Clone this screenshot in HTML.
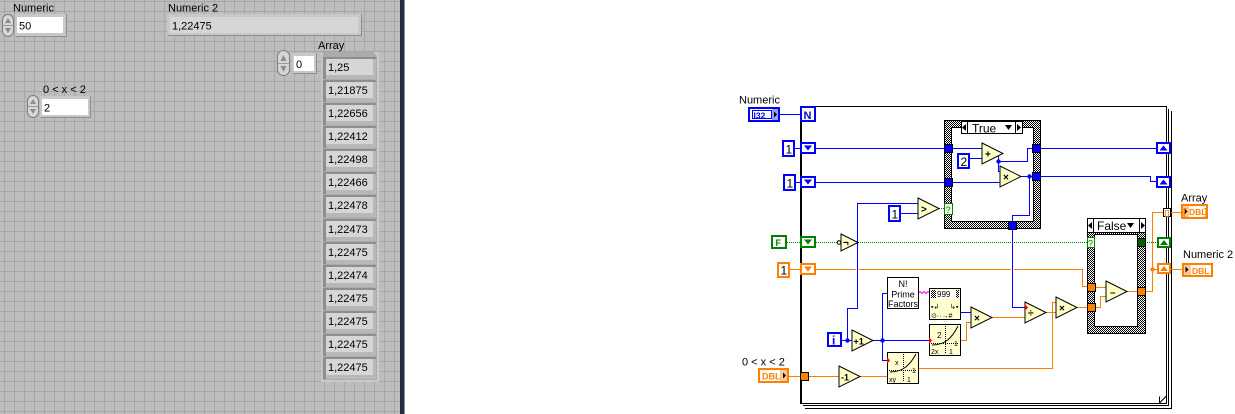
<!DOCTYPE html>
<html><head><meta charset="utf-8">
<style>
html,body{margin:0;padding:0;background:#fff;width:1235px;height:414px;overflow:hidden}
svg{display:block}
text{font-family:"Liberation Sans",sans-serif}
</style></head><body>
<svg width="1235" height="414" viewBox="0 0 1235 414" xmlns="http://www.w3.org/2000/svg">
<defs>
<pattern id="g" x="4" y="1" width="10" height="10" patternUnits="userSpaceOnUse">
<rect width="10" height="10" fill="#bdbdbd"/><rect width="1" height="10" fill="#a7a7a7"/><rect width="10" height="1" fill="#a7a7a7"/>
</pattern>
<pattern id="h" x="0" y="0" width="2" height="2" patternUnits="userSpaceOnUse">
<rect width="2" height="2" fill="#fff"/><rect width="1" height="1" fill="#000"/><rect x="1" y="1" width="1" height="1" fill="#000"/>
</pattern>
</defs>

<!-- ============ FRONT PANEL ============ -->
<rect x="0" y="0" width="400" height="414" fill="url(#g)"/>
<rect x="400" y="0" width="4" height="414" fill="#252b3a"/>
<rect x="404" y="0" width="1" height="414" fill="#8a90a0"/>

<g font-size="11" fill="#000">
<!-- Numeric -->
<text x="13" y="11.5">Numeric</text>
<rect x="2.5" y="14.5" width="11" height="22" rx="5.5" fill="#d6d6d6" stroke="#7c7c7c"/>
<line x1="3" y1="25.5" x2="13" y2="25.5" stroke="#9a9a9a"/>
<polygon points="5,23 8,18 11,23" fill="#8c8c8c"/>
<polygon points="5,28 8,33 11,28" fill="#8c8c8c"/>
<rect x="15" y="14" width="52" height="23" fill="#c8c8c8"/>
<path d="M15.5,36.5 H66.5 V14" fill="none" stroke="#8e8e8e"/>
<rect x="17" y="17" width="46" height="16" fill="#fff"/>
<text x="19" y="29.5">50</text>

<!-- Numeric 2 -->
<text x="168" y="11.5">Numeric 2</text>
<rect x="167" y="14" width="195" height="22" fill="#c8c8c8"/>
<path d="M167.5,35.5 H361.5 V14" fill="none" stroke="#8e8e8e"/>
<rect x="170" y="17" width="188" height="16" fill="#d6d6d6"/>
<text x="172" y="29.5">1,22475</text>

<!-- 0<x<2 -->
<text x="43" y="93">0 &lt; x &lt; 2</text>
<rect x="27.5" y="95.5" width="11" height="22" rx="5.5" fill="#d6d6d6" stroke="#7c7c7c"/>
<line x1="28" y1="106.5" x2="38" y2="106.5" stroke="#9a9a9a"/>
<polygon points="30,104 33,99 36,104" fill="#8c8c8c"/>
<polygon points="30,109 33,114 36,109" fill="#8c8c8c"/>
<rect x="40" y="96" width="51" height="22" fill="#c8c8c8"/>
<path d="M40.5,117.5 H90.5 V96" fill="none" stroke="#8e8e8e"/>
<rect x="42" y="99" width="46" height="16" fill="#fff"/>
<text x="44" y="111.5">2</text>

<!-- Array -->
<text x="318" y="49">Array</text>
<rect x="277.5" y="50.5" width="12" height="25" rx="6" fill="#d6d6d6" stroke="#7c7c7c"/>
<line x1="278" y1="63.5" x2="289" y2="63.5" stroke="#9a9a9a"/>
<polygon points="280.5,61 283.5,55 286.5,61" fill="#8c8c8c"/>
<polygon points="280.5,66 283.5,72 286.5,66" fill="#8c8c8c"/>
<rect x="292" y="53" width="25" height="21" fill="#c8c8c8"/>
<path d="M292.5,73.5 H316.5 V53" fill="none" stroke="#8e8e8e"/>
<rect x="294" y="56" width="20" height="15" fill="#fff"/>
<text x="296" y="68">0</text>

<rect x="321" y="52" width="58" height="330" fill="#ababab"/>
<rect x="321" y="52" width="2" height="330" fill="#c4c4c4"/>
<rect x="377" y="56" width="2" height="326" fill="#cdcdcd"/>
<rect x="321" y="380" width="58" height="2" fill="#c9c9c9"/>
<polygon points="373,52 379,52 379,58" fill="#c9c9c9"/>
</g>

<g font-size="11" fill="#000">
<g transform="translate(0,67)"><rect x="323" y="-10" width="53" height="22" fill="#b8b8b8"/><rect x="323" y="-10" width="53" height="2" fill="#8e8e8e"/><rect x="323" y="-10" width="3" height="22" fill="#8e8e8e"/><rect x="326" y="-8" width="47" height="16" fill="#d6d6d6"/><text x="328" y="4">1,25</text></g>
<g transform="translate(0,90)"><rect x="323" y="-10" width="53" height="22" fill="#b8b8b8"/><rect x="323" y="-10" width="53" height="2" fill="#8e8e8e"/><rect x="323" y="-10" width="3" height="22" fill="#8e8e8e"/><rect x="326" y="-8" width="47" height="16" fill="#d6d6d6"/><text x="328" y="4">1,21875</text></g>
<g transform="translate(0,113)"><rect x="323" y="-10" width="53" height="22" fill="#b8b8b8"/><rect x="323" y="-10" width="53" height="2" fill="#8e8e8e"/><rect x="323" y="-10" width="3" height="22" fill="#8e8e8e"/><rect x="326" y="-8" width="47" height="16" fill="#d6d6d6"/><text x="328" y="4">1,22656</text></g>
<g transform="translate(0,136)"><rect x="323" y="-10" width="53" height="22" fill="#b8b8b8"/><rect x="323" y="-10" width="53" height="2" fill="#8e8e8e"/><rect x="323" y="-10" width="3" height="22" fill="#8e8e8e"/><rect x="326" y="-8" width="47" height="16" fill="#d6d6d6"/><text x="328" y="4">1,22412</text></g>
<g transform="translate(0,159)"><rect x="323" y="-10" width="53" height="22" fill="#b8b8b8"/><rect x="323" y="-10" width="53" height="2" fill="#8e8e8e"/><rect x="323" y="-10" width="3" height="22" fill="#8e8e8e"/><rect x="326" y="-8" width="47" height="16" fill="#d6d6d6"/><text x="328" y="4">1,22498</text></g>
<g transform="translate(0,182)"><rect x="323" y="-10" width="53" height="22" fill="#b8b8b8"/><rect x="323" y="-10" width="53" height="2" fill="#8e8e8e"/><rect x="323" y="-10" width="3" height="22" fill="#8e8e8e"/><rect x="326" y="-8" width="47" height="16" fill="#d6d6d6"/><text x="328" y="4">1,22466</text></g>
<g transform="translate(0,205)"><rect x="323" y="-10" width="53" height="22" fill="#b8b8b8"/><rect x="323" y="-10" width="53" height="2" fill="#8e8e8e"/><rect x="323" y="-10" width="3" height="22" fill="#8e8e8e"/><rect x="326" y="-8" width="47" height="16" fill="#d6d6d6"/><text x="328" y="4">1,22478</text></g>
<g transform="translate(0,229)"><rect x="323" y="-10" width="53" height="22" fill="#b8b8b8"/><rect x="323" y="-10" width="53" height="2" fill="#8e8e8e"/><rect x="323" y="-10" width="3" height="22" fill="#8e8e8e"/><rect x="326" y="-8" width="47" height="16" fill="#d6d6d6"/><text x="328" y="4">1,22473</text></g>
<g transform="translate(0,252)"><rect x="323" y="-10" width="53" height="22" fill="#b8b8b8"/><rect x="323" y="-10" width="53" height="2" fill="#8e8e8e"/><rect x="323" y="-10" width="3" height="22" fill="#8e8e8e"/><rect x="326" y="-8" width="47" height="16" fill="#d6d6d6"/><text x="328" y="4">1,22475</text></g>
<g transform="translate(0,275)"><rect x="323" y="-10" width="53" height="22" fill="#b8b8b8"/><rect x="323" y="-10" width="53" height="2" fill="#8e8e8e"/><rect x="323" y="-10" width="3" height="22" fill="#8e8e8e"/><rect x="326" y="-8" width="47" height="16" fill="#d6d6d6"/><text x="328" y="4">1,22474</text></g>
<g transform="translate(0,298)"><rect x="323" y="-10" width="53" height="22" fill="#b8b8b8"/><rect x="323" y="-10" width="53" height="2" fill="#8e8e8e"/><rect x="323" y="-10" width="3" height="22" fill="#8e8e8e"/><rect x="326" y="-8" width="47" height="16" fill="#d6d6d6"/><text x="328" y="4">1,22475</text></g>
<g transform="translate(0,321)"><rect x="323" y="-10" width="53" height="22" fill="#b8b8b8"/><rect x="323" y="-10" width="53" height="2" fill="#8e8e8e"/><rect x="323" y="-10" width="3" height="22" fill="#8e8e8e"/><rect x="326" y="-8" width="47" height="16" fill="#d6d6d6"/><text x="328" y="4">1,22475</text></g>
<g transform="translate(0,344)"><rect x="323" y="-10" width="53" height="22" fill="#b8b8b8"/><rect x="323" y="-10" width="53" height="2" fill="#8e8e8e"/><rect x="323" y="-10" width="3" height="22" fill="#8e8e8e"/><rect x="326" y="-8" width="47" height="16" fill="#d6d6d6"/><text x="328" y="4">1,22475</text></g>
<g transform="translate(0,367)"><rect x="323" y="-10" width="53" height="22" fill="#b8b8b8"/><rect x="323" y="-10" width="53" height="2" fill="#8e8e8e"/><rect x="323" y="-10" width="3" height="22" fill="#8e8e8e"/><rect x="326" y="-8" width="47" height="16" fill="#d6d6d6"/><text x="328" y="4">1,22475</text></g>
</g>

<!-- ============ BLOCK DIAGRAM ============ -->
<!-- For loop frame -->
<g fill="none" stroke="#000" shape-rendering="crispEdges">
<path d="M801,106.5 H1166.5 V403.5 H801"/>
<rect x="800" y="106" width="2" height="298" fill="#000" stroke="none"/>
<path d="M1168.5,109 V405.5 H803"/>
<path d="M1171.5,111 V408.5 H805"/>
<path d="M1159.5,403 L1166,396.5 M1159.5,396.5 V403"/>
</g>

<!-- Case structures -->
<g shape-rendering="crispEdges">
<rect x="944.5" y="120.5" width="96" height="108" fill="url(#h)" stroke="#000"/>
<rect x="951.5" y="127.5" width="82" height="94" fill="#fff" stroke="#000"/>
<rect x="961.5" y="121.5" width="61" height="12" fill="#fff" stroke="#000"/>
<rect x="1087.5" y="218.5" width="58" height="115" fill="url(#h)" stroke="#000"/>
<rect x="1094.5" y="234.5" width="43" height="92" fill="#fff" stroke="#000"/>
<rect x="1087.5" y="218.5" width="58" height="14" fill="#fff" stroke="#000"/>
</g>
<g fill="#000">
<polygon points="962,127.5 966,124 966,131"/><line x1="967.5" y1="122" x2="967.5" y2="133" stroke="#000"/>
<polygon points="1021,127.5 1017,124 1017,131"/><line x1="1015.5" y1="122" x2="1015.5" y2="133" stroke="#000"/>
<polygon points="1005,125 1012,125 1008.5,130"/>
<text x="972" y="132.5" font-size="12">True</text>
<polygon points="1088,225.5 1092,222 1092,229"/><line x1="1093.5" y1="219" x2="1093.5" y2="232" stroke="#000"/>
<polygon points="1145,225.5 1141,222 1141,229"/><line x1="1139.5" y1="219" x2="1139.5" y2="232" stroke="#000"/>
<polygon points="1127,223 1134,223 1130.5,228"/>
<text x="1097" y="230" font-size="12">False</text>
</g>

<!-- Wires: blue -->
<g fill="none" stroke="#0000ff" shape-rendering="crispEdges">
<path d="M779,114.5 H800"/>
<path d="M794,148.5 H801"/>
<path d="M796,182.5 H801"/>
<path d="M816,148.5 H944"/>
<path d="M816,182.5 H944"/>
<path d="M857.5,203 V308.5 H847.5 V340"/>
<path d="M857,203.5 H918"/>
<path d="M901,213.5 H918"/>
<path d="M842,340.5 H852"/>
<path d="M873,340.5 H929"/>
<path d="M882.5,293 V360.5 H887"/>
<path d="M882,293.5 H887"/>
<path d="M961,312.5 H971"/>
<path d="M953,148.5 H982"/>
<path d="M969,158.5 H982"/>
<path d="M1002,153.5 H998.5 V171.5 H1000"/>
<path d="M998,161.5 H1027.5 V148.5 H1032"/>
<path d="M953,182.5 H1000"/>
<path d="M1021,176.5 H1032"/>
<path d="M1029.5,176 V215.5 H1012.5 V221"/>
<path d="M1040,148.5 H1156"/>
<path d="M1040,176.5 H1150.5 V181.5 H1156"/>
<path d="M1012.5,229 V307.5 H1025"/>
</g>
<g fill="#0000ff">
<circle cx="847.5" cy="340.5" r="2.2"/><circle cx="882.5" cy="340.5" r="2.2"/>
<circle cx="998.5" cy="161.5" r="2.2"/><circle cx="1029.5" cy="176.5" r="2.2"/>
</g>

<!-- Wires: orange -->
<g fill="none" stroke="#ff8000" shape-rendering="crispEdges">
<path d="M789,269.5 H801"/>
<path d="M816,269.5 H856"/>
<path d="M859,269.5 H1011"/>
<path d="M1014,269.5 H1082.5 V286.5 H1087"/>
<path d="M789,376.5 H800"/>
<path d="M809,376.5 H839"/>
<path d="M860,376.5 H887"/>
<path d="M919,368.5 H1052.5 V302.5 H1056"/>
<path d="M961,340.5 H966.5 V322.5 H971"/>
<path d="M992,317.5 H1025"/>
<path d="M1046,312.5 H1056"/>
<path d="M1077,307.5 H1087"/>
<path d="M1095,287.5 H1106"/>
<path d="M1095,307.5 H1100.5 V296.5 H1106"/>
<path d="M1127,291.5 H1137"/>
<path d="M1145,291.5 H1152.5 V212.5 H1163"/>
<path d="M1152,269.5 H1157"/>
<path d="M1171,212.5 H1181"/>
<path d="M1171,269.5 H1182"/>
</g>
<circle cx="1152.5" cy="269.5" r="2.2" fill="#ff8000"/>

<!-- Wires: green dotted -->
<g fill="none" stroke="#008000" stroke-dasharray="1 1" shape-rendering="crispEdges">
<path d="M787,242.5 H801"/>
<path d="M816,242.5 H837"/>
<path d="M858,242.5 H1087"/>
<path d="M939,208.5 H944"/>
<path d="M1145,242.5 H1157"/>
</g>

<!-- pink wire -->
<path d="M918,293.5 l2,-2 l2,2 l2,-2 l2,2 l2,-2 l1,1" fill="none" stroke="#ff00ff"/>

<!-- Terminals: left -->
<g shape-rendering="crispEdges">
<!-- I32 -->
<rect x="749" y="108" width="30" height="13" fill="#fff" stroke="#0000ff" stroke-width="2"/>
<rect x="752.5" y="110.5" width="19" height="8" fill="#fff" stroke="#0000ff"/>
<rect x="772" y="109" width="6" height="11" fill="#9a9aff"/>
<!-- N -->
<rect x="801" y="107" width="14" height="14" fill="#ffffe0" stroke="#0000ff" stroke-width="2"/>
<!-- constants -->
<rect x="783" y="141" width="11" height="15" fill="#fff" stroke="#0000ff" stroke-width="2"/>
<rect x="784" y="175" width="11" height="15" fill="#fff" stroke="#0000ff" stroke-width="2"/>
<rect x="889" y="206" width="11" height="15" fill="#fff" stroke="#0000ff" stroke-width="2"/>
<rect x="958" y="154" width="11" height="14" fill="#fff" stroke="#0000ff" stroke-width="2"/>
<rect x="772" y="236" width="14" height="12" fill="#fff" stroke="#008000" stroke-width="2"/>
<rect x="778" y="263" width="11" height="14" fill="#fff" stroke="#ff8000" stroke-width="2"/>
<!-- shift registers left -->
<rect x="801" y="143" width="14" height="10" fill="#fff" stroke="#0000ff" stroke-width="2"/>
<rect x="801" y="177" width="14" height="10" fill="#fff" stroke="#0000ff" stroke-width="2"/>
<rect x="801" y="237" width="14" height="10" fill="#fff" stroke="#008000" stroke-width="2"/>
<rect x="801" y="264" width="14" height="10" fill="#fff" stroke="#ff8000" stroke-width="2"/>
<!-- i -->
<rect x="828" y="333" width="13" height="13" fill="#fff" stroke="#0000ff" stroke-width="2"/>
<!-- DBL control -->
<rect x="759" y="369" width="29" height="13" fill="#fff" stroke="#ff8000" stroke-width="2"/>
<rect x="780" y="370" width="7" height="11" fill="#ffc890"/>
<!-- loop tunnel orange -->
<rect x="800.5" y="372.5" width="8" height="8" fill="#ff8000" stroke="#000"/>
</g>
<g fill="#0000ff">
<polygon points="804,145.5 812,145.5 808,150.5"/>
<polygon points="804,179.5 812,179.5 808,184.5"/>
</g>
<polygon points="804,239.5 812,239.5 808,244.5" fill="#008000"/>
<polygon points="804,266.5 812,266.5 808,271.5" fill="#ff8000"/>
<polygon points="774,111.5 777,114.5 774,117.5" fill="#000"/>
<polygon points="783,372.5 786,375.5 783,378.5" fill="#000"/>
<g font-weight="bold" fill="#0000ff">
<text x="753.5" y="118.5" font-size="8.5">I32</text>
<text x="803.5" y="119" font-size="11">N</text>
<text x="832" y="344.5" font-size="12">i</text>
</g>
<g font-size="12" fill="#000">
<text x="785.5" y="153.5">1</text>
<text x="786.5" y="187.5">1</text>
<text x="891.5" y="218.5">1</text>
<text x="960.5" y="166">2</text>
<text x="780.5" y="274.5">1</text>
</g>
<text x="775.5" y="246" font-size="9" font-weight="bold" fill="#008000">F</text>
<text x="762" y="379.5" font-size="9" font-weight="bold" fill="#ff8000">DBL</text>

<!-- True case tunnels -->
<g stroke="#000" shape-rendering="crispEdges">
<rect x="944.5" y="144.5" width="8" height="8" fill="#0000ff"/>
<rect x="944.5" y="178.5" width="8" height="8" fill="#0000ff"/>
<rect x="1032.5" y="144.5" width="8" height="8" fill="#0000ff"/>
<rect x="1032.5" y="172.5" width="8" height="8" fill="#0000ff"/>
<rect x="1008.5" y="221.5" width="8" height="8" fill="#0000ff"/>
<rect x="1137.5" y="238.5" width="8" height="8" fill="#006000"/>
<rect x="1087.5" y="283.5" width="8" height="8" fill="#ff8000"/>
<rect x="1087.5" y="303.5" width="8" height="8" fill="#ff8000"/>
<rect x="1137.5" y="287.5" width="8" height="8" fill="#ff8000"/>
</g>
<!-- selector ? terminals -->
<g shape-rendering="crispEdges">
<rect x="944.5" y="203.5" width="8" height="11" fill="#f0ffe0" stroke="#008000"/>
<rect x="1087.5" y="237.5" width="7" height="10" fill="#f0ffe0" stroke="#008000"/>
</g>
<text x="945.5" y="213" font-size="9" fill="#008000">?</text>
<text x="1088" y="246.5" font-size="9" fill="#008000">?</text>

<!-- Right shift registers / indicators -->
<g shape-rendering="crispEdges">
<rect x="1157" y="143" width="13" height="10" fill="#fff" stroke="#0000ff" stroke-width="2"/>
<rect x="1157" y="177" width="13" height="10" fill="#fff" stroke="#0000ff" stroke-width="2"/>
<rect x="1158" y="238" width="12" height="9" fill="#fff" stroke="#008000" stroke-width="2"/>
<rect x="1158" y="264" width="12" height="9" fill="#fff" stroke="#ff8000" stroke-width="2"/>
<rect x="1163.5" y="208.5" width="7" height="8" fill="#fff" stroke="#000"/>
<rect x="1182" y="205" width="25" height="13" fill="#fff" stroke="#ff8000" stroke-width="2"/>
<rect x="1183" y="206" width="6" height="11" fill="#ffc890"/>
<rect x="1183" y="264" width="29" height="12" fill="#fff" stroke="#ff8000" stroke-width="2"/>
<rect x="1184" y="265" width="7" height="10" fill="#ffc890"/>
</g>
<g fill="#0000ff">
<polygon points="1159.5,150.5 1167.5,150.5 1163.5,145.5"/>
<polygon points="1159.5,184.5 1167.5,184.5 1163.5,179.5"/>
</g>
<polygon points="1160,245 1168,245 1164,240" fill="#008000"/>
<polygon points="1160,271 1168,271 1164,266" fill="#ff8000"/>
<polygon points="1184.5,208.5 1187.5,211.5 1184.5,214.5" fill="#000"/>
<polygon points="1185.5,266.5 1188.5,269.5 1185.5,272.5" fill="#000"/>
<text x="1164.5" y="215.5" font-size="7" fill="#ff8000" font-weight="bold">[]</text>
<text x="1183" y="215.5" font-size="10" fill="#ff8000" font-weight="bold">[</text>
<text x="1189" y="215" font-size="8.5" fill="#ff8000" font-weight="bold">DBL</text>
<text x="1204" y="215.5" font-size="10" fill="#ff8000" font-weight="bold">]</text>
<text x="1192" y="274" font-size="8.5" fill="#ff8000" font-weight="bold">DBL</text>

<!-- Primitive triangles -->
<g fill="#ffffc8" stroke="#000">
<polygon points="918,198 939,208.5 918,219"/>
<polygon points="982,143 1003,153.5 982,164"/>
<polygon points="1000,166 1021,176.5 1000,187"/>
<polygon points="841,234 858,242.5 841,251"/>
<polygon points="852,330 873,340.5 852,351"/>
<polygon points="839,366 860,376.5 839,387"/>
<polygon points="971,307 992,317.5 971,328"/>
<polygon points="1025,302 1046,312.5 1025,323"/>
<polygon points="1056,297 1077,307.5 1056,318"/>
<polygon points="1106,281 1127,291.5 1106,302"/>
<circle cx="839" cy="242.5" r="1.8" fill="#fff"/>
</g>
<g font-size="10" font-weight="bold" fill="#000">
<text x="921" y="212.5">&gt;</text>
<text x="985" y="157.5">+</text>
<text x="1003" y="180.5">×</text>
<text x="843" y="246">¬</text>
<text x="853.5" y="344.5" font-size="9">+1</text>
<text x="841" y="380.5" font-size="9">-1</text>
<text x="974" y="321.5">×</text>
<text x="1028" y="316.5">÷</text>
<text x="1059" y="311.5">×</text>
<text x="1110" y="295.5">–</text>
</g>

<!-- SubVI boxes -->
<g shape-rendering="crispEdges" stroke="#000">
<rect x="887.5" y="277.5" width="31" height="31" fill="#fff"/>
<rect x="929.5" y="288.5" width="31" height="31" fill="#ffffd0"/>
<rect x="931" y="290" width="28" height="8" fill="url(#h)" stroke="none"/>
<rect x="936" y="290" width="20" height="8" fill="#fff" stroke="none"/>
<rect x="929.5" y="324.5" width="31" height="31" fill="#ffffd0"/>
<rect x="887.5" y="352.5" width="31" height="31" fill="#ffffd0"/>
</g>
<g fill="none" stroke="#000" stroke-dasharray="1 1" shape-rendering="crispEdges">
<path d="M931,343.5 H959 M945.5,326 V354"/>
<path d="M889,370.5 H917 M903.5,354 V382"/>
</g>
<g fill="none" stroke="#000">
<path d="M932,345 C945,345 952,338 958,326"/>
<path d="M890,372 C903,372 910,365 916,354"/>
</g>
<g fill="#000">
<text x="903" y="287" font-size="9" text-anchor="middle">N!</text>
<text x="903" y="297.5" font-size="9" text-anchor="middle">Prime</text>
<text x="903" y="307" font-size="9" text-anchor="middle">Factors</text>
<text x="937" y="297" font-size="8">999</text>
<text x="931" y="309" font-size="7">▪↲</text>
<text x="950" y="309" font-size="7">↳▪</text>
<text x="931" y="318" font-size="7">⊙··→#</text>
<text x="937" y="338" font-size="8">2</text>
<text x="931" y="354" font-size="7">2x</text>
<text x="949" y="354" font-size="7">1</text>
<text x="954" y="346" font-size="7">1</text>
<text x="895" y="365" font-size="7">x</text>
<text x="889" y="382" font-size="7">xy</text>
<text x="907" y="382" font-size="7">1</text>
<text x="912" y="373" font-size="7">1</text>
</g>
<g fill="#ff0000">
<polygon points="929,337 932,340.5 929,344"/>
<polygon points="887,357 890,360.5 887,364"/>
<polygon points="1025,304 1028,307.5 1025,311"/>
</g>

<!-- Labels -->
<g font-size="11" fill="#000">
<text x="739" y="103.5">Numeric</text>
<text x="742" y="365.5">0 &lt; x &lt; 2</text>
<text x="1181" y="201.5">Array</text>
<text x="1183" y="258">Numeric 2</text>
</g>
</svg>
</body></html>
